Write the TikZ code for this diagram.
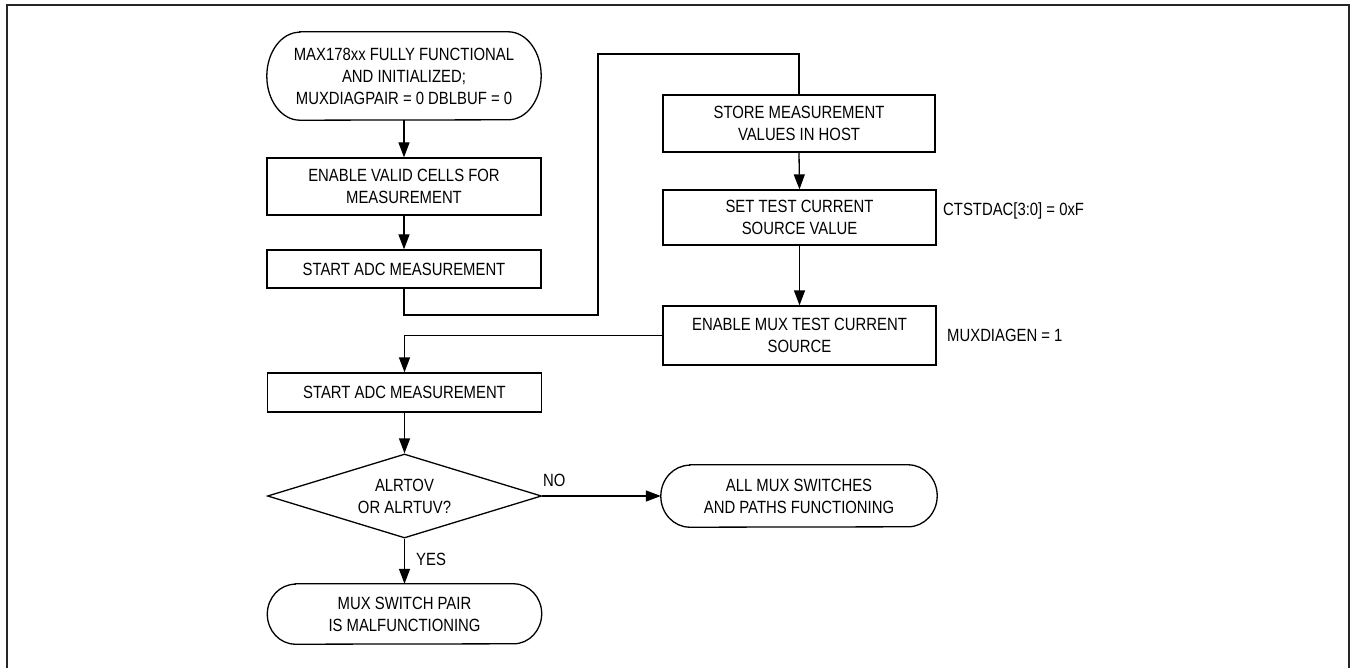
\documentclass[tikz,border=0pt]{standalone}
\usepackage{fontspec}
\setmainfont{Liberation Sans}[FakeStretch=0.84]
\usetikzlibrary{arrows.meta,shapes.geometric}
\newcommand{\termoutline}[3]{% name, rx, half height
  \draw[boxline] ([xshift=#2pt]#1.north west) -- ([xshift=-#2pt]#1.north east)
    arc[start angle=90,end angle=-90,x radius=#2pt,y radius=#3pt]
    -- ([xshift=#2pt]#1.south west)
    arc[start angle=270,end angle=90,x radius=#2pt,y radius=#3pt] -- cycle;}
\begin{document}
\begin{tikzpicture}[x=1pt,y=-1pt,
  every node/.style={font=\fontsize{17.7}{22}\selectfont, inner sep=0pt},
  boxline/.style={line width=1.3pt},
  procbox/.style={draw, boxline, rectangle, align=center, minimum width=#1},
  procbox/.default=274pt,
  termbox/.style={rectangle, align=center},
  decbox/.style={draw, boxline, diamond, aspect=3.26, align=center, minimum width=274pt, minimum height=84pt},
  arr/.style={line width=1.3pt, -{Triangle[length=15pt,width=11pt]}},
  conn/.style={line width=1.3pt},
  note/.style={anchor=west}
]
\useasboundingbox (0,0) rectangle (1351,668);
\draw[line width=2pt, black!85] (7,672) -- (7,5) -- (1349.3,5) -- (1349.3,672);

% nodes
\node[termbox, minimum width=274pt, minimum height=88pt] (start) at (404,76)
  {MAX178xx FULLY FUNCTIONAL\\AND INITIALIZED;\\MUXDIAGPAIR = 0 DBLBUF = 0};
\termoutline{start}{33}{44}
\node[procbox, minimum height=57pt] (cells) at (404,186.5) {ENABLE VALID CELLS FOR\\MEASUREMENT};
\node[procbox, minimum height=38pt] (adc1) at (404,269) {START ADC MEASUREMENT};
\node[procbox=272pt, minimum height=57pt] (store) at (799,123.5) {STORE MEASUREMENT\\VALUES IN HOST};
\node[procbox=273pt, minimum height=55pt] (settest) at (799.5,217.5) {SET TEST CURRENT\\SOURCE VALUE};
\node[procbox=273pt, minimum height=59pt] (enmux) at (799.5,335.5) {ENABLE MUX TEST CURRENT\\SOURCE};
\node[procbox, minimum height=39pt] (adc2) at (404.5,392.5) {START ADC MEASUREMENT};
\node[decbox] (dec) at (404.5,496) {ALRTOV\\OR ALRTUV?};
\node[termbox, minimum width=276pt, minimum height=62pt] (allok) at (799,496)
  {ALL MUX SWITCHES\\AND PATHS FUNCTIONING};
\termoutline{allok}{29}{31}
\node[termbox, minimum width=274pt, minimum height=60pt] (malf) at (404.5,614)
  {MUX SWITCH PAIR\\IS MALFUNCTIONING};
\termoutline{malf}{28}{30}

% side notes
\node[note] (n1) at (943,211) {CTSTDAC[3:0] = 0xF};
\node[note] (n2) at (947,335) {MUXDIAGEN = 1};

% connectors
\coordinate (j1) at (598,315);
\coordinate (j2) at (598,54);
\draw[arr] (start.south) -- (cells.north);
\draw[arr] (cells.south) -- (adc1.north);
\draw[conn] (adc1.south) |- (j1) -- (j2) -| (store.north);
\draw[arr] (store.south) -- (settest.north);
\draw[arr] (settest.south) -- (enmux.north);
\draw[arr] (enmux.west) -| (adc2.north);
\draw[arr] (adc2.south) -- (dec.north);
\draw[arr] (dec.east) -- (allok.west);
\draw[arr] (dec.south) -- (malf.north);

% labels
\node[anchor=west] (lno) at (543,480) {NO};
\node[anchor=west] (lyes) at (416,559) {YES};
\end{tikzpicture}
\end{document}
